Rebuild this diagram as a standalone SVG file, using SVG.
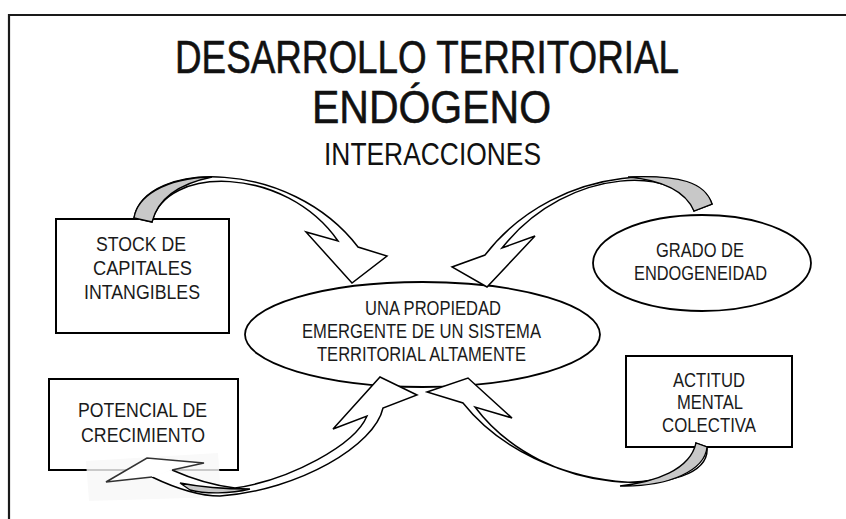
<svg xmlns="http://www.w3.org/2000/svg" width="846" height="519" viewBox="0 0 846 519">
<defs>
<style>
.t{font-family:"Liberation Sans",Arial,sans-serif;fill:#111;}
.h{stroke:#111;stroke-width:0.6;}
.n{font-size:20px;fill:#1a1a1a;}
.box{fill:#fff;stroke:#000;stroke-width:2;}
.ell{fill:#fff;stroke:#000;stroke-width:1.8;}
.arr{fill:#fff;stroke:#000;stroke-width:1.5;stroke-linejoin:miter;}
.fillonly{fill:#fff;stroke:none;}
.line{fill:none;stroke:#000;stroke-width:1.5;}
.back{fill:#c8c8c8;stroke:#000;stroke-width:1.3;}
</style>
<filter id="blur" x="-20%" y="-20%" width="140%" height="140%"><feGaussianBlur stdDeviation="0.7"/></filter>
</defs>
<rect width="846" height="519" fill="#fff"/>
<path d="M9,519 V15 H846" fill="none" stroke="#1a1a1a" stroke-width="2.2"/>

<g id="title">
<text class="t h" x="175" y="73" font-size="47" textLength="504" lengthAdjust="spacingAndGlyphs">DESARROLLO TERRITORIAL</text>
<text class="t h" x="312" y="123" font-size="47" textLength="239" lengthAdjust="spacingAndGlyphs">ENDÓGENO</text>
<text class="t" x="324" y="165" font-size="32" textLength="217" lengthAdjust="spacingAndGlyphs">INTERACCIONES</text>
</g>

<g id="node-stock">
<rect class="box" x="56" y="219" width="173" height="114"/>
<text class="t n" x="96" y="251" font-size="21" textLength="90" lengthAdjust="spacingAndGlyphs">STOCK DE</text>
<text class="t n" x="93" y="275" font-size="21" textLength="99" lengthAdjust="spacingAndGlyphs">CAPITALES</text>
<text class="t n" x="84" y="299" font-size="21" textLength="116" lengthAdjust="spacingAndGlyphs">INTANGIBLES</text>
</g>

<g id="node-grado">
<ellipse class="ell" cx="702" cy="263" rx="109" ry="48"/>
<text class="t n" x="656" y="257" textLength="88" lengthAdjust="spacingAndGlyphs">GRADO DE</text>
<text class="t n" x="634" y="280" textLength="133" lengthAdjust="spacingAndGlyphs">ENDOGENEIDAD</text>
</g>

<g id="node-propiedad">
<ellipse class="ell" cx="422.5" cy="334.5" rx="177.5" ry="52.5"/>
<text class="t n" x="365" y="315" textLength="136" lengthAdjust="spacingAndGlyphs">UNA PROPIEDAD</text>
<text class="t n" x="302" y="338" textLength="239" lengthAdjust="spacingAndGlyphs">EMERGENTE DE UN SISTEMA</text>
<text class="t n" x="317" y="361" textLength="209" lengthAdjust="spacingAndGlyphs">TERRITORIAL ALTAMENTE</text>
</g>

<g id="node-potencial">
<rect class="box" x="49" y="379" width="189" height="91"/>
<text class="t n" x="78" y="417" textLength="129" lengthAdjust="spacingAndGlyphs">POTENCIAL DE</text>
<text class="t n" x="81" y="442" textLength="124" lengthAdjust="spacingAndGlyphs">CRECIMIENTO</text>
</g>

<g id="node-actitud">
<rect class="box" x="626" y="356" width="166" height="91"/>
<text class="t n" x="673" y="387" textLength="72" lengthAdjust="spacingAndGlyphs">ACTITUD</text>
<text class="t n" x="677" y="409" textLength="66" lengthAdjust="spacingAndGlyphs">MENTAL</text>
<text class="t n" x="662" y="432" textLength="94" lengthAdjust="spacingAndGlyphs">COLECTIVA</text>
</g>

<g id="connectors">
<!-- arrow 1: stock -> propiedad -->
<path class="arr" d="M134,218 C145,160 290,158 358,247 L387,256 L352,283 L306,232 L338,241 C285,165 165,165 152,222 Z"/>
<path class="back" d="M134,218 C137,198 162,178 212,177 C178,184 158,198 152,222 Z"/>
<!-- arrow 2: grado -> propiedad -->
<path class="arr" d="M712,204 C700,165 560,158 485,255 L452,267 L487,287 L535,236 L502,248 C570,162 685,168 694,211 Z"/>
<path class="back" d="M712,204 C705,182 680,175 628,177 C660,180 685,190 694,211 Z"/>
<!-- arrow 3: actitud -> propiedad -->
<path class="arr" d="M707,447 C712,500 540,500 463,403 L427,392 L468,378 L512,418 L475,407 C545,500 698,500 696,443 Z"/>
<path class="back" d="M707,447 C705,470 670,487 620,486 C655,482 690,470 696,443 Z"/>
<!-- arrow 4: propiedad <-> potencial -->
<polygon points="86,461 218,453 221,497 89,501" fill="#f9f9f9"/>
<path d="M87,470 H219" stroke="#9a9a9a" stroke-width="1.2" fill="none"/>
<path class="fillonly" d="M383,408 C375,445 300,490 220,496 C200,496 175,488 152,477 L172,470 C190,478 210,485 235,488 C290,480 355,445 367,416 L333,429 L380,377 L417,395 Z"/>
<path class="back" d="M180,483 C200,487 225,489 250,489 C230,494 205,494 190,490 Z"/>
<path class="line" d="M152,477 C175,488 200,496 220,496 C300,490 375,445 383,408 L417,395 L380,377 L333,429 L367,416 C355,445 290,480 235,488 C210,485 190,478 172,470"/>
<polyline points="172,470 204,463 147,458 106,482 152,477" fill="#fff" stroke="#333" stroke-width="1.6" filter="url(#blur)"/>
</g>
</svg>
